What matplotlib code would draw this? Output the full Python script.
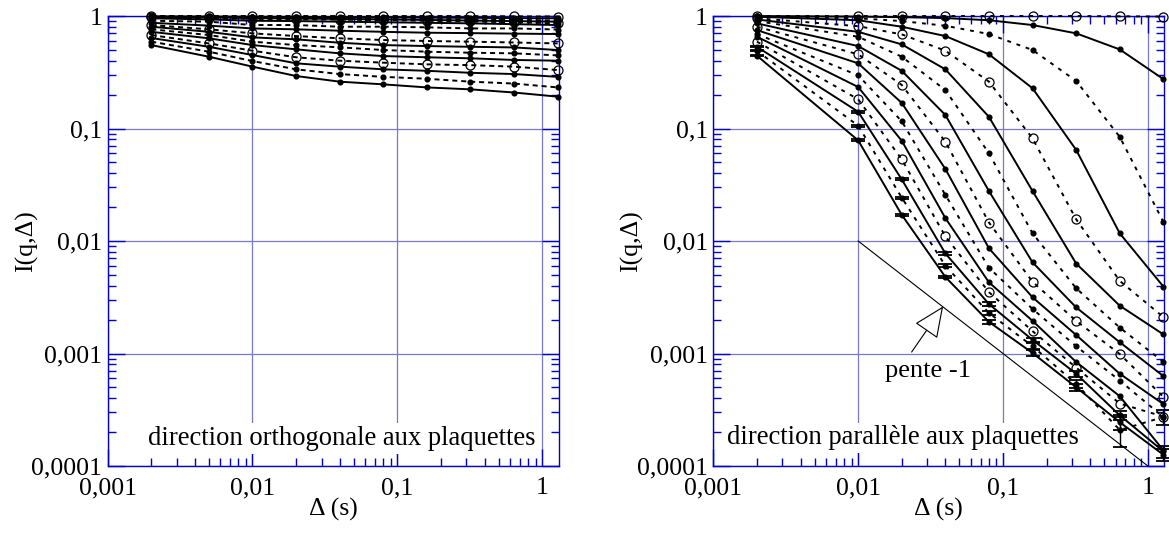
import numpy as np
import matplotlib
matplotlib.use('Agg')
import matplotlib.pyplot as plt
from matplotlib.ticker import FixedLocator, FixedFormatter, LogLocator, NullFormatter

plt.rcParams['font.family'] = ['Liberation Serif', 'DejaVu Serif']
plt.rcParams['font.size'] = 18.5

# delays (s)
delta_orth = [0.002, 0.005, 0.01, 0.02, 0.04, 0.08, 0.16, 0.32, 0.64, 1.28]
delta_para = [0.002, 0.01, 0.02, 0.04, 0.08, 0.16, 0.32, 0.64, 1.28]

# direction orthogonale aux plaquettes (one list per q value)
orth_q01 = [1.0, 1.0, 1.0, 1.0, 1.0, 1.0, 1.0, 1.0, 0.995, 0.99]
orth_q02 = [0.995, 0.991, 0.986, 0.982, 0.977, 0.973, 0.968, 0.964, 0.959, 0.955]
orth_q03 = [0.991, 0.982, 0.973, 0.966, 0.959, 0.951, 0.942, 0.933, 0.925, 0.912]
orth_q04 = [0.984, 0.973, 0.959, 0.951, 0.942, 0.933, 0.923, 0.912, 0.902, 0.891]
orth_q05 = [0.973, 0.955, 0.944, 0.938, 0.929, 0.920, 0.908, 0.895, 0.881, 0.861]
orth_q06 = [0.955, 0.933, 0.908, 0.902, 0.891, 0.881, 0.871, 0.861, 0.847, 0.832]
orth_q07 = [0.908, 0.891, 0.832, 0.832, 0.804, 0.804, 0.794, 0.776, 0.776, 0.759]
orth_q08 = [0.871, 0.822, 0.776, 0.762, 0.741, 0.724, 0.711, 0.705, 0.698, 0.692]
orth_q09 = [0.832, 0.762, 0.702, 0.664, 0.634, 0.612, 0.600, 0.592, 0.582, 0.571]
orth_q10 = [0.804, 0.724, 0.646, 0.621, 0.579, 0.552, 0.541, 0.533, 0.526, 0.499]
orth_q11 = [0.762, 0.678, 0.592, 0.552, 0.527, 0.499, 0.482, 0.472, 0.466, 0.447]
orth_q12 = [0.724, 0.634, 0.552, 0.506, 0.466, 0.441, 0.430, 0.421, 0.407, 0.401]
orth_q13 = [0.678, 0.571, 0.492, 0.430, 0.401, 0.385, 0.372, 0.366, 0.355, 0.331]
orth_q14 = [0.638, 0.533, 0.450, 0.380, 0.355, 0.336, 0.326, 0.313, 0.305, 0.288]
orth_q15 = [0.592, 0.482, 0.398, 0.336, 0.305, 0.288, 0.277, 0.261, 0.251, 0.232]
orth_q16 = [0.552, 0.435, 0.355, 0.293, 0.261, 0.247, 0.232, 0.223, 0.209, 0.192]

# direction parallele aux plaquettes
para_q01 = [1.0, 1.0, 1.0, 1.0, 1.0, 1.0, 1.0, 0.995, 0.99]
para_q02 = [1.0, 0.989, 0.977, 0.959, 0.918, 0.832, 0.702, 0.505, 0.275]
para_q03 = [0.993, 0.955, 0.902, 0.820, 0.692, 0.499, 0.265, 0.0843, 0.0148]
para_q04 = [0.986, 0.918, 0.804, 0.664, 0.457, 0.228, 0.0646, 0.0117, 0.00394]
para_q05 = [0.955, 0.813, 0.687, 0.492, 0.261, 0.0817, 0.0156, 0.00442, 0.00211]
para_q06 = [0.933, 0.724, 0.560, 0.336, 0.127, 0.0278, 0.00631, 0.00266, 0.00148]
para_q07 = [0.902, 0.655, 0.435, 0.220, 0.0603, 0.0117, 0.0038, 0.0017, 0.000841]
para_q08 = [0.861, 0.541, 0.326, 0.132, 0.0278, 0.00646, 0.00257, 0.00126, 0.00063]
para_q09 = [0.804, 0.457, 0.244, 0.0764, 0.0146, 0.00434, 0.00195, 0.000989, 0.000412]
para_q10 = [0.750, 0.380, 0.169, 0.0437, 0.00861, 0.00316, 0.00146, 0.000661, 0.000355]
para_q11 = [0.692, 0.297, 0.116, 0.0257, 0.00578, 0.00249, 0.00116, 0.000575, 0.000272]
para_q12 = [0.655, 0.234, 0.0778, 0.016, 0.00429, 0.00195, 0.000841, 0.000417, 0.000138]
para_q13 = [0.592, 0.182, 0.0532, 0.011, 0.00351, 0.00158, 0.00075, 0.000359, 0.000275]
para_q14 = [0.533, 0.141, 0.0353, 0.00776, 0.00275, 0.00132, 0.000661, 0.000282, 0.000135]
para_q15 = [0.490, 0.106, 0.0243, 0.00603, 0.00229, 0.00116, 0.000537, 0.000209, 0.000272]
para_q16 = [0.444, 0.0785, 0.0171, 0.00479, 0.00191, 0.00101, 0.000501, 0.000245, 0.000126]

# relative error bars of the three largest q (parallel direction)
para_err14 = [0.01, 0.02, 0.02, 0.03, 0.04, 0.05, 0.06, 0.10, 0.12]
para_err15 = [0.01, 0.02, 0.02, 0.03, 0.04, 0.06, 0.08, 0.30, 0.15]
para_err16 = [0.01, 0.02, 0.02, 0.03, 0.04, 0.06, 0.08, 0.15, 0.12]

# slope -1 guide
slope_x = [0.01, 1.0]
slope_y = [0.01, 1e-4]

x_ticks = [0.001, 0.01, 0.1, 1]
x_labels = ['0,001', '0,01', '0,1', '1']
y_ticks = [1e-4, 1e-3, 1e-2, 1e-1, 1]
y_labels = ['0,0001', '0,001', '0,01', '0,1', '1']

orth_curves = [orth_q01, orth_q02, orth_q03, orth_q04, orth_q05, orth_q06, orth_q07, orth_q08,
               orth_q09, orth_q10, orth_q11, orth_q12, orth_q13, orth_q14, orth_q15, orth_q16]
para_curves = [para_q01, para_q02, para_q03, para_q04, para_q05, para_q06, para_q07, para_q08,
               para_q09, para_q10, para_q11, para_q12, para_q13, para_q14, para_q15, para_q16]
para_errs = {13: para_err14, 14: para_err15, 15: para_err16}

blue = '#0000c8'
gridc = '#7878c8'


def setup_axes(ax):
    ax.set_xscale('log')
    ax.set_yscale('log')
    ax.set_xlim(0.001, 1.3)
    ax.set_ylim(1e-4, 1)
    ax.xaxis.set_major_locator(FixedLocator(x_ticks))
    ax.xaxis.set_major_formatter(FixedFormatter(x_labels))
    ax.yaxis.set_major_locator(FixedLocator(y_ticks))
    ax.yaxis.set_major_formatter(FixedFormatter(y_labels))
    ax.xaxis.set_minor_locator(LogLocator(base=10, subs=np.arange(2, 10)))
    ax.yaxis.set_minor_locator(LogLocator(base=10, subs=np.arange(2, 10)))
    ax.xaxis.set_minor_formatter(NullFormatter())
    ax.yaxis.set_minor_formatter(NullFormatter())
    ax.tick_params(which='both', direction='in', top=True, right=True,
                   color=blue, width=1.0)
    ax.tick_params(which='major', length=12)
    ax.tick_params(which='minor', length=6)
    ax.tick_params(axis='x', pad=8)
    ax.tick_params(axis='y', pad=4)
    for s in ax.spines.values():
        s.set_color(blue)
        s.set_linewidth(1.0)
    ax.grid(True, which='major', color=gridc, lw=0.9)
    ax.set_axisbelow(True)
    ax.set_xlabel('Δ (s)')
    ax.set_ylabel('I(q,Δ)')
    ax.xaxis.set_label_coords(0.5, -0.072)
    ax.yaxis.set_label_coords(-0.155, 0.5)


def draw_curves(ax, x, curves, dash, errs=None):
    for i, y in enumerate(curves):
        ls = (0, dash) if i % 2 == 0 else '-'
        if i % 4 == 0:
            mk = dict(marker='o', ms=6.5, mfc='none', mec='black', mew=0.9)
        else:
            mk = dict(marker='o', ms=3.4, mfc='black', mec='black')
        ax.plot(x, y, color='black', lw=1.4, ls=ls, clip_on=False, zorder=3, **mk)
        if errs is not None and i in errs:
            yerr = np.array(errs[i]) * np.array(y)
            ax.errorbar(x, y, yerr=yerr, fmt='none', ecolor='black', elinewidth=1.0,
                        capsize=5, capthick=1.3, clip_on=False, zorder=3)


fig = plt.figure(figsize=(11.69, 5.35), dpi=100)
ax1 = fig.add_axes([0.0921, 0.129, 0.3858, 0.841])
ax2 = fig.add_axes([0.6102, 0.129, 0.3858, 0.841])

for ax in (ax1, ax2):
    setup_axes(ax)

draw_curves(ax1, delta_orth, orth_curves, (2.6, 2.0))
draw_curves(ax2, delta_para, para_curves, (2.0, 3.0), para_errs)

ax2.plot(slope_x, slope_y, color='black', lw=0.8, zorder=2.6)
ax2.annotate('', xy=(0.0386, 0.00262), xytext=(0.0234, 0.00103),
             arrowprops=dict(arrowstyle='-|>,head_length=0.9,head_width=0.4',
                             fc='white', ec='black', lw=0.8, mutation_scale=22,
                             shrinkA=0, shrinkB=0), zorder=2.7)
ax2.text(0.381, 0.198, 'pente -1', transform=ax2.transAxes, ha='left', va='baseline',
         fontsize=19)

box = dict(fc='white', ec='none', pad=2)
ax1.text(0.089, 0.047, 'direction orthogonale aux plaquettes', transform=ax1.transAxes,
         ha='left', va='baseline', bbox=box, zorder=2.5, fontsize=19.2)
ax2.text(0.030, 0.048, 'direction parallèle aux plaquettes', transform=ax2.transAxes,
         ha='left', va='baseline', bbox=box, zorder=2.5, fontsize=19.2)

fig.savefig('out.png', dpi=100)
